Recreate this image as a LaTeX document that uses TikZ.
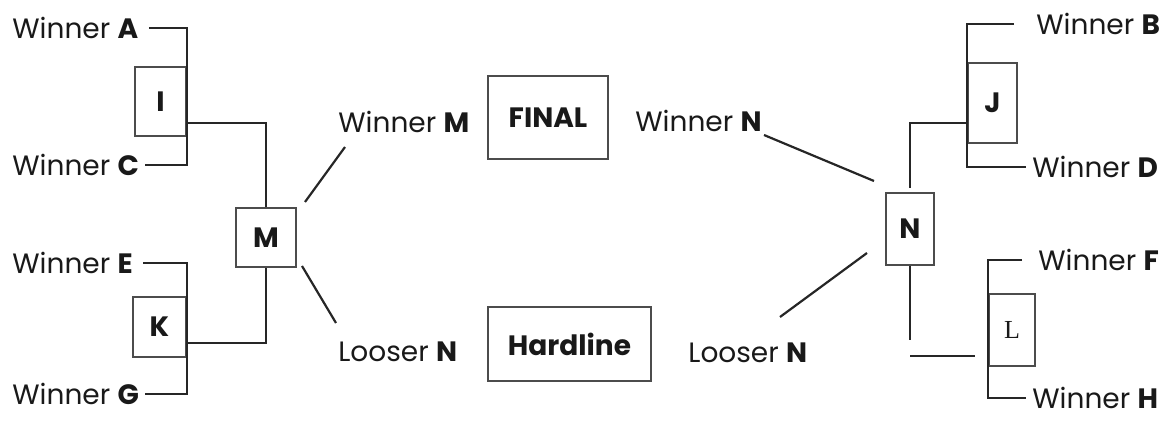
\documentclass[tikz,border=0pt]{standalone}
\usepackage{fontspec}
\setmainfont{Poppins}
\newfontfamily\lfont{Liberation Serif}
\usetikzlibrary{positioning}

\tikzset{
  box/.style={draw=black!70, line width=0.7pt, inner sep=0pt, font=\fontsize{14}{17}\selectfont\bfseries},
  lbl/.style={inner sep=3pt, anchor=west},
  wire/.style={line width=1.1pt, draw=black!85},
}

\begin{document}
\begin{tikzpicture}[x=0.5pt, y=-0.5pt, font=\fontsize{14}{17}\selectfont, text=black!90]
				\useasboundingbox (0,0) rectangle (1168,421);
				% match boxes
				\node[box, minimum width=25.5pt, minimum height=34.5pt] (I) at (160.5,101.5) {I};
				\node[box, minimum width=26.5pt, minimum height=30pt] (K) at (159.5,327) {K};
				\node[box, minimum width=30pt, minimum height=29.5pt] (M) at (266,237.5) {M};
				\node[box, minimum width=60pt, minimum height=41.5pt] (final) at (548,117.5) {FINAL};
				\node[box, minimum width=81.5pt, minimum height=37pt] (hard) at (569.5,344) {Hardline};
				\node[box, minimum width=24pt, minimum height=36pt] (N) at (910,229) {N};
				\node[box, minimum width=24.5pt, minimum height=40pt] (J) at (992.5,103) {J};
				\node[box, minimum width=23pt, minimum height=36pt, font=\lfont\fontsize{13}{15}\selectfont] (L) at (1012,330) {L};
				
				% labels
				\node[lbl] (wA) at (6,28) {Winner \textbf{A}};
				\node[lbl] (wC) at (6,165) {Winner \textbf{C}};
				\node[lbl] (wE) at (6,263) {Winner \textbf{E}};
				\node[lbl] (wG) at (6,394) {Winner \textbf{G}};
				\node[lbl] (wM) at (332,122) {Winner \textbf{M}};
				\node[lbl] (lNa) at (332,352) {Looser \textbf{N}};
				\node[lbl] (wN) at (629,121) {Winner \textbf{N}};
				\node[lbl] (lNb) at (682,353) {Looser \textbf{N}};
				\node[lbl] (wB) at (1030,24) {Winner \textbf{B}};
				\node[lbl] (wD) at (1026,167) {Winner \textbf{D}};
				\node[lbl] (wF) at (1032,260) {Winner \textbf{F}};
				\node[lbl] (wH) at (1026,398) {Winner \textbf{H}};
				
				% free ends
				\coordinate (iOut) at (188,123);
				\coordinate (kOut) at (188,343);
				\coordinate (mUp) at (305,202);
				\coordinate (wMfoot) at (345,147);
				\coordinate (mDn) at (302,266);
				\coordinate (lNfoot) at (336,323);
				\coordinate (nUp) at (874,181);
				\coordinate (wNfoot) at (764,135);
				\coordinate (nDn) at (867,253);
				\coordinate (lNfootb) at (780,317);
				\coordinate (nTop) at (910,188);
				\coordinate (jIn) at (968,123);
				\coordinate (nLow) at (910,340);
				\coordinate (lOutA) at (910,356);
				\coordinate (lOutB) at (975,356);
				
				% left brackets
				\draw[wire, shorten <=2pt] (wA.east) -| (I.east) |- (wC.east);
				\draw[wire, shorten <=2pt] (wE.east) -| (K.east) |- (wG.east);
				\draw[wire] (iOut) -| (M.north);
				\draw[wire] (kOut) -| (M.south);
				\draw[wire] (mUp) -- (wMfoot);
				\draw[wire] (mDn) -- (lNfoot);
				
				% right brackets
				\draw[wire] (wNfoot) -- (nUp);
				\draw[wire] (lNfootb) -- (nDn);
				\draw[wire] (nTop) |- (jIn);
				\draw[wire, shorten <=8pt] (wB.west) -| (J.west) |- (wD.west);
				\draw[wire] (N.south) -- (nLow);
				\draw[wire] (lOutA) -- (lOutB);
				\draw[wire, shorten <=5pt] (wF.west) -| (L.west) |- (wH.west);
			\end{tikzpicture}
\end{document}
